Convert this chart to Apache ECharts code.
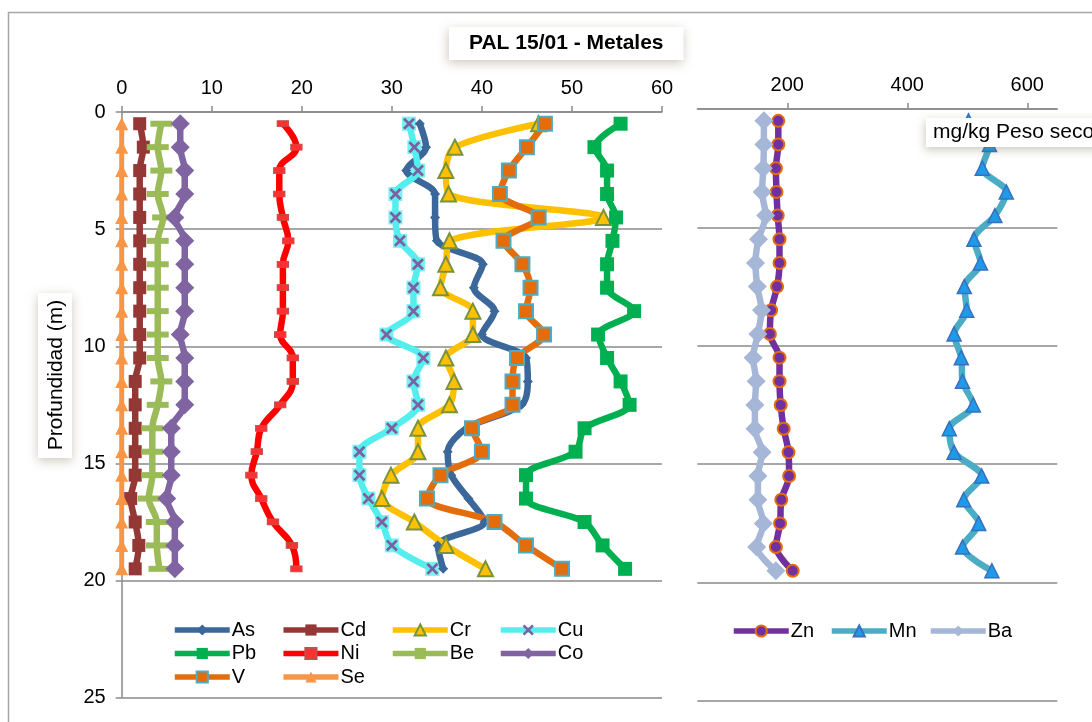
<!DOCTYPE html>
<html>
<head>
<meta charset="utf-8">
<script src="https://cdn.jsdelivr.net/npm/echarts@6/dist/echarts.min.js"></script>
<style>
  html, body { margin: 0; padding: 0; background: #ffffff; }
  #chart { width: 1092px; height: 722px; }
</style>
</head>
<body>
<div id="chart"></div>
<script>
// Sampling depths (m)
const depth = [0.5, 1.5, 2.5, 3.5, 4.5, 5.5, 6.5, 7.5, 8.5, 9.5,
               10.5, 11.5, 12.5, 13.5, 14.5, 15.5, 16.5, 17.5, 18.5, 19.5];

// Metal concentrations, mg/kg dry weight (left panel)
const As = [33.1, 33.8, 31.6, 34.8, 34.8, 35.0, 40.1, 39.1, 41.4, 40.0, 44.9, 45.1, 44.4, 38.3, 36.2, 36.6, 38.5, 40.3, 35.1, 35.7];
const Cd = [2.0, 2.4, 2.0, 2.0, 2.0, 2.0, 2.0, 2.0, 2.0, 2.0, 2.0, 1.5, 1.5, 1.5, 1.5, 1.5, 1.0, 1.5, 1.9, 1.5];
const Cr = [46.3, 37.0, 36.0, 36.3, 53.5, 36.4, 36.0, 35.4, 39.0, 39.0, 36.0, 36.9, 36.4, 32.9, 32.9, 29.9, 28.9, 32.5, 36.0, 40.4];
const Cu = [31.9, 32.5, 32.9, 30.4, 30.4, 30.9, 32.9, 32.4, 32.4, 29.4, 33.5, 32.4, 32.9, 30.0, 26.4, 26.4, 27.4, 28.9, 30.0, 34.5];
const Pb = [55.4, 52.5, 53.9, 53.9, 54.9, 54.5, 53.9, 53.9, 56.9, 52.9, 53.9, 55.4, 56.4, 51.4, 50.4, 44.9, 44.9, 51.4, 53.4, 55.9];
const Ni = [17.9, 19.4, 17.5, 17.5, 17.9, 18.5, 17.9, 17.9, 17.9, 17.6, 19.0, 19.0, 17.6, 15.5, 15.0, 14.4, 15.5, 16.8, 18.9, 19.4];
const Be = [4.4, 4.0, 4.4, 4.0, 4.6, 4.0, 4.0, 4.0, 4.0, 4.0, 4.0, 4.4, 4.0, 3.4, 3.4, 3.4, 3.0, 3.9, 3.9, 4.2];
const Co = [6.5, 6.5, 7.0, 7.0, 5.9, 7.0, 7.0, 7.0, 7.0, 6.5, 7.0, 7.0, 7.0, 5.5, 5.5, 5.5, 5.0, 5.9, 5.9, 5.9];
const V  = [47.0, 45.0, 43.0, 42.0, 46.3, 42.4, 44.5, 45.4, 44.9, 46.9, 43.9, 43.4, 43.4, 38.9, 40.0, 35.4, 33.9, 41.4, 44.9, 48.9];
const Se = [0, 0, 0, 0, 0, 0, 0, 0, 0, 0, 0, 0, 0, 0, 0, 0, 0, 0, 0, 0];

// Higher-range metals (right panel)
const Zn = [185, 185, 181, 182, 184, 187, 187, 183, 173, 171, 187, 187, 189, 194, 202, 203, 190, 188, 181, 209];
const Mn = [502, 537, 525, 565, 546, 511, 522, 495, 499, 478, 490, 492, 510, 470, 478, 524, 494, 519, 492, 541];
const Ba = [161, 161, 160, 158, 164, 152, 147, 150, 157, 151, 143, 148, 146, 146, 158, 151, 151, 160, 149, 181];

// Axis ticks
const leftTicks = [0, 10, 20, 30, 40, 50, 60];
const rightTicks = [200, 400, 600];
const depthTicks = [0, 5, 10, 15, 20, 25];

const FONT = "'Liberation Sans', Arial, sans-serif";
const GRID_GRAY = '#8a8a8a';
const X_PATH = 'path://M0,1.6L1.6,0L5,3.4L8.4,0L10,1.6L6.6,5L10,8.4L8.4,10L5,6.6L1.6,10L0,8.4L3.4,5Z';

function pairs(values) {
  return depth.map((d, i) => [values[i], d]);
}

function profile(name, values, panel, color, extra) {
  return Object.assign({
    type: 'line',
    name: name,
    xAxisIndex: panel,
    yAxisIndex: panel,
    data: pairs(values),
    smooth: 0.3,
    lineStyle: { color: color, width: 6.5 },
    itemStyle: { color: color },
    emphasis: { disabled: true }
  }, extra || {});
}

const chart = echarts.init(document.getElementById('chart'), null, { renderer: 'canvas' });

const axisLabelStyle = { color: '#000', fontSize: 20, fontFamily: FONT };

const option = {
  animation: false,
  backgroundColor: '#ffffff',
  textStyle: { fontFamily: FONT },
  title: [
    {
      text: 'PAL 15/01 - Metales',
      left: 449, top: 27,
      padding: [6, 20, 6, 20],
      backgroundColor: '#ffffff',
      shadowBlur: 10, shadowColor: 'rgba(110,100,70,0.35)', shadowOffsetX: -1, shadowOffsetY: 3,
      textStyle: { fontSize: 21, fontWeight: 'bold', color: '#000', fontFamily: FONT }
    },
    {
      text: 'mg/kg Peso seco',
      left: 926, top: 118,
      padding: [4, 80, 4, 7],
      backgroundColor: '#ffffff',
      shadowBlur: 10, shadowColor: 'rgba(110,100,70,0.35)', shadowOffsetX: -1, shadowOffsetY: 3,
      textStyle: { fontSize: 21, fontWeight: 'normal', color: '#000', fontFamily: FONT }
    }
  ],
  graphic: [
    {
      type: 'rect', z: 0,
      shape: { x: 8.5, y: 12.5, width: 1200, height: 800 },
      style: { fill: 'none', stroke: '#a6a6a6', lineWidth: 1.5 }
    },
    {
      type: 'rect', z: 10,
      shape: { x: 38, y: 293, width: 34, height: 165 },
      style: { fill: '#ffffff', shadowBlur: 10, shadowColor: 'rgba(110,100,70,0.35)', shadowOffsetX: 0, shadowOffsetY: 3 }
    },
    {
      type: 'text', z: 11,
      x: 56, y: 375, rotation: Math.PI / 2,
      style: { text: 'Profundidad (m)', fontSize: 21, fontFamily: FONT, fill: '#000', align: 'center', verticalAlign: 'middle' }
    }
  ],
  grid: [
    { left: 121.7, top: 112, width: 540.3, height: 585.7 },
    { left: 697.3, top: 109, width: 360, height: 592 }
  ],
  xAxis: [
    {
      type: 'value', gridIndex: 0, position: 'top',
      min: leftTicks[0], max: leftTicks[leftTicks.length - 1], interval: 10,
      axisLine: { show: true, lineStyle: { color: GRID_GRAY, width: 1.5 } },
      axisTick: { show: true, inside: false, length: 6, lineStyle: { color: GRID_GRAY, width: 1.5 } },
      axisLabel: Object.assign({ margin: 14 }, axisLabelStyle),
      splitLine: { show: false }
    },
    {
      type: 'value', gridIndex: 1, position: 'top',
      min: 50, max: 650,
      axisLine: { show: true, lineStyle: { color: GRID_GRAY, width: 1.5 } },
      axisTick: { show: true, length: 6, customValues: rightTicks, lineStyle: { color: GRID_GRAY, width: 1.5 } },
      axisLabel: Object.assign({ margin: 14, customValues: rightTicks }, axisLabelStyle),
      splitLine: { show: false }
    }
  ],
  yAxis: [
    {
      type: 'value', gridIndex: 0, inverse: true,
      min: depthTicks[0], max: depthTicks[depthTicks.length - 1], interval: 5,
      axisLine: { show: true, lineStyle: { color: GRID_GRAY, width: 1.5 } },
      axisTick: { show: true, length: 6, lineStyle: { color: GRID_GRAY, width: 1.5 } },
      axisLabel: Object.assign({ margin: 16 }, axisLabelStyle),
      splitLine: { show: true, lineStyle: { color: GRID_GRAY, width: 1.5 } }
    },
    {
      type: 'value', gridIndex: 1, inverse: true,
      min: 0, max: 25, interval: 5,
      axisLine: { show: false },
      axisTick: { show: false },
      axisLabel: { show: false },
      splitLine: { show: true, lineStyle: { color: GRID_GRAY, width: 1.5 } }
    }
  ],
  legend: [
    { data: ['As', 'Pb', 'V'], left: 172, top: 620 },
    { data: ['Cd', 'Ni', 'Se'], left: 280.7, top: 620 },
    { data: ['Cr', 'Be'], left: 390, top: 620 },
    { data: ['Cu', 'Co'], left: 498, top: 620 },
    { data: ['Zn'], left: 731, top: 621 },
    { data: ['Mn'], left: 829, top: 621 },
    { data: ['Ba'], left: 928, top: 621 }
  ].map(l => Object.assign({
    orient: 'vertical',
    itemWidth: 55, itemHeight: 14, itemGap: 3.5,
    padding: 0,
    selectedMode: false,
    lineStyle: { width: 5.5 },
    textStyle: { fontSize: 20, color: '#000', fontFamily: FONT, padding: [0, 0, 0, -3] }
  }, l)),
  series: [
    profile('As', As, 0, '#3C679A', { symbol: 'diamond', symbolSize: 10 }),
    profile('Cd', Cd, 0, '#953735', { symbol: 'rect', symbolSize: 13 }),
    profile('Cr', Cr, 0, '#FFC000', {
      symbol: 'triangle', symbolSize: 15,
      itemStyle: { color: '#FFC000', borderColor: '#77933C', borderWidth: 2 }
    }),
    // cyan square backing behind the Cu cross markers
    {
      type: 'scatter', name: 'Cu-fondo', xAxisIndex: 0, yAxisIndex: 0,
      data: pairs(Cu), symbol: 'rect', symbolSize: 14,
      itemStyle: { color: '#55EEEE' }, emphasis: { disabled: true }, silent: true
    },
    profile('Cu', Cu, 0, '#55EEEE', {
      symbol: X_PATH, symbolSize: 12,
      itemStyle: { color: '#7F5FA0' }
    }),
    profile('Pb', Pb, 0, '#00B050', { symbol: 'rect', symbolSize: 14 }),
    // crosses drawn over the Pb squares
    {
      type: 'scatter', name: 'Pb-cruz', xAxisIndex: 0, yAxisIndex: 0,
      data: pairs(Pb), symbol: X_PATH, symbolSize: 11,
      itemStyle: { color: '#3A8FB0' }, emphasis: { disabled: true }, silent: true
    },
    profile('Ni', Ni, 0, '#FF0000', {
      symbol: 'rect', symbolSize: [11, 6], smooth: 0.45,
      itemStyle: { color: '#FF3030', borderColor: '#C0504D', borderWidth: 1 }
    }),
    profile('Be', Be, 0, '#9BBB59', { symbol: 'rect', symbolSize: [22, 6] }),
    profile('Co', Co, 0, '#8064A2', { symbol: 'diamond', symbolSize: [19, 19] }),
    profile('V', V, 0, '#E46C0A', {
      symbol: 'rect', symbolSize: 14,
      itemStyle: { color: '#E46C0A', borderColor: '#4BACC6', borderWidth: 2 }
    }),
    profile('Se', Se, 0, '#F79646', { symbol: 'triangle', symbolSize: 13, lineStyle: { color: '#F79646', width: 5 } }),

    profile('Zn', Zn, 1, '#7030A0', {
      symbol: 'circle', symbolSize: 12,
      itemStyle: { color: '#7030A0', borderColor: '#E46C0A', borderWidth: 2 }
    }),
    profile('Mn', Mn, 1, '#4BACC6', {
      symbol: 'triangle', symbolSize: 14,
      itemStyle: { color: '#1E9BE8', borderColor: '#3A6FBF', borderWidth: 1.5 }
    }),
    profile('Ba', Ba, 1, '#A5B6D6', { symbol: 'diamond', symbolSize: 19 })
  ]
};

chart.setOption(option);
</script>
</body>
</html>
